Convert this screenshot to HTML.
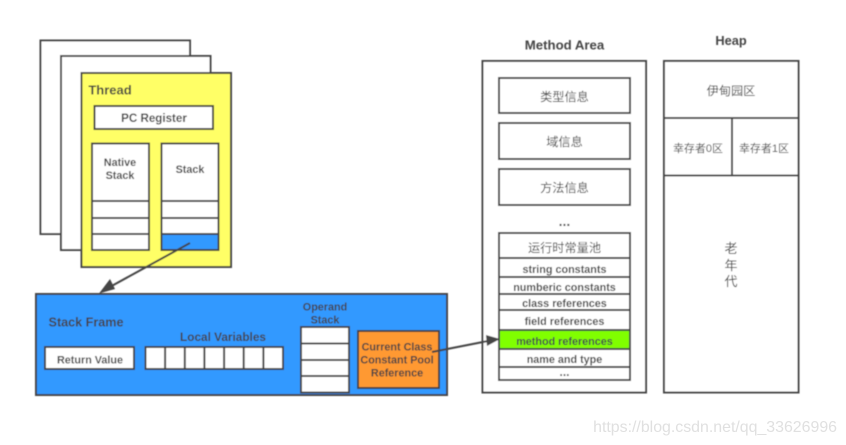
<!DOCTYPE html>
<html><head><meta charset="utf-8"><style>
html,body{margin:0;padding:0;background:#fff;width:846px;height:445px;overflow:hidden}
svg{display:block}
.l{font:bold 10.800px "Liberation Sans","Noto Sans CJK SC",sans-serif;fill:#444;text-anchor:middle}
.c{font:12.200px "Liberation Sans","Noto Sans CJK SC",sans-serif;fill:#444;text-anchor:middle}
rect,line{stroke:#444;stroke-width:2}
g.b{filter:url(#bl)}
</style></head><body>
<svg width="846" height="445" viewBox="0 0 846 445" xmlns="http://www.w3.org/2000/svg">
<defs><filter id="bl" x="-2%" y="-2%" width="104%" height="104%"><feGaussianBlur stdDeviation="0.4"/></filter></defs>
<g class="b">
<rect x="40.500" y="40.500" width="149.500" height="193.500" fill="#fff"/>
<rect x="61" y="56" width="149.500" height="194" fill="#fff"/>
<rect x="81.500" y="73" width="149.500" height="194" fill="#ffff66"/>
<text class="l" x="110" y="94.500" style="font-size:13px">Thread</text>
<rect x="94.500" y="106" width="118.500" height="23" fill="#fff"/>
<text class="l" x="154" y="122" style="font-size:11.600px">PC Register</text>
<rect x="92" y="143.500" width="57" height="106.500" fill="#fff"/>
<line x1="92" y1="201" x2="149" y2="201"/><line x1="92" y1="218" x2="149" y2="218"/><line x1="92" y1="234" x2="149" y2="234"/>
<text class="l" x="120" y="166">Native</text><text class="l" x="120" y="179">Stack</text>
<rect x="161.500" y="143.500" width="57" height="106.500" fill="#fff"/>
<rect x="161.500" y="234" width="57" height="16" fill="#3399ff"/>
<line x1="161.500" y1="201" x2="218.500" y2="201"/><line x1="161.500" y1="218" x2="218.500" y2="218"/>
<text class="l" x="190" y="173">Stack</text>

<rect x="36" y="294" width="411" height="101" fill="#3399ff"/>
<text class="l" x="86" y="326.500" style="font-size:12.600px">Stack Frame</text>
<rect x="45" y="347" width="89" height="22" fill="#fff"/>
<text class="l" x="90" y="363.500">Return Value</text>
<text class="l" x="223" y="341" style="font-size:11.800px">Local Variables</text>
<rect x="145.500" y="347" width="137.500" height="22" fill="#fff"/>
<line x1="165.100" y1="347" x2="165.100" y2="369"/><line x1="184.800" y1="347" x2="184.800" y2="369"/><line x1="204.400" y1="347" x2="204.400" y2="369"/><line x1="224.100" y1="347" x2="224.100" y2="369"/><line x1="243.700" y1="347" x2="243.700" y2="369"/><line x1="263.400" y1="347" x2="263.400" y2="369"/>
<text class="l" x="325" y="310.500">Operand</text><text class="l" x="325" y="323.500">Stack</text>
<rect x="301" y="327" width="48" height="65.500" fill="#fff"/>
<line x1="301" y1="343.500" x2="349" y2="343.500"/><line x1="301" y1="360" x2="349" y2="360"/><line x1="301" y1="376" x2="349" y2="376"/>
<rect x="358" y="331" width="81" height="57" fill="#ff9933"/>
<text class="l" x="397" y="350.500">Current Class</text><text class="l" x="397" y="363.500">Constant Pool</text><text class="l" x="397" y="376.500">Reference</text>

<rect x="482.500" y="61" width="163.500" height="331.500" fill="#fff"/>
<text class="l" x="564.500" y="49.500" style="font-size:13.200px">Method Area</text>
<rect x="499" y="78" width="131" height="35" fill="#fff"/>
<text class="c" x="564.500" y="101">类型信息</text>
<rect x="499" y="123" width="131" height="36" fill="#fff"/>
<text class="c" x="564.500" y="146">域信息</text>
<rect x="499" y="169" width="131" height="36" fill="#fff"/>
<text class="c" x="564.500" y="192">方法信息</text>
<text class="l" x="564.500" y="226" style="font-size:14px">...</text>
<rect x="499" y="233" width="131" height="147" fill="#fff"/>
<rect x="499" y="330" width="131" height="19" fill="#80ff00"/>
<line x1="499" y1="258" x2="630" y2="258"/><line x1="499" y1="277" x2="630" y2="277"/><line x1="499" y1="294" x2="630" y2="294"/><line x1="499" y1="310" x2="630" y2="310"/><line x1="499" y1="367" x2="630" y2="367"/>
<text class="c" x="564.500" y="252">运行时常量池</text>
<text class="l" x="564.500" y="273">string constants</text>
<text class="l" x="564.500" y="291">numberic constants</text>
<text class="l" x="564.500" y="307">class references</text>
<text class="l" x="564.500" y="325">field references</text>
<text class="l" x="564.500" y="345">method references</text>
<text class="l" x="564.500" y="363">name and type</text>
<text class="l" x="564.500" y="376" style="font-size:12px">...</text>

<rect x="664" y="61" width="134.500" height="331.500" fill="#fff"/>
<text class="l" x="731" y="45" style="font-size:12.800px">Heap</text>
<line x1="664" y1="118" x2="798.500" y2="118"/><line x1="664" y1="175.500" x2="798.500" y2="175.500"/><line x1="732" y1="118" x2="732" y2="175.500"/>
<text class="c" x="731" y="95">伊甸园区</text>
<text class="c" x="698" y="152" style="font-size:11px">幸存者0区</text>
<text class="c" x="764" y="152" style="font-size:11px">幸存者1区</text>
<text class="c" x="731" y="253" style="font-size:13px">老</text>
<text class="c" x="731" y="270" style="font-size:13px">年</text>
<text class="c" x="731" y="286" style="font-size:13px">代</text>

<line x1="190" y1="243" x2="108" y2="288"/>
<path d="M99 293.500 L110 279 L115 289 Z" fill="#444"/>
<line x1="432" y1="352" x2="488" y2="341"/>
<path d="M500 339 L486 335 L487 346 Z" fill="#444"/>
</g>
<text x="837" y="432" text-anchor="end" style="font:15.900px 'Liberation Sans',sans-serif;fill:#e0e0e0">https://blog.csdn.net/qq_33626996</text>
</svg>
</body></html>
